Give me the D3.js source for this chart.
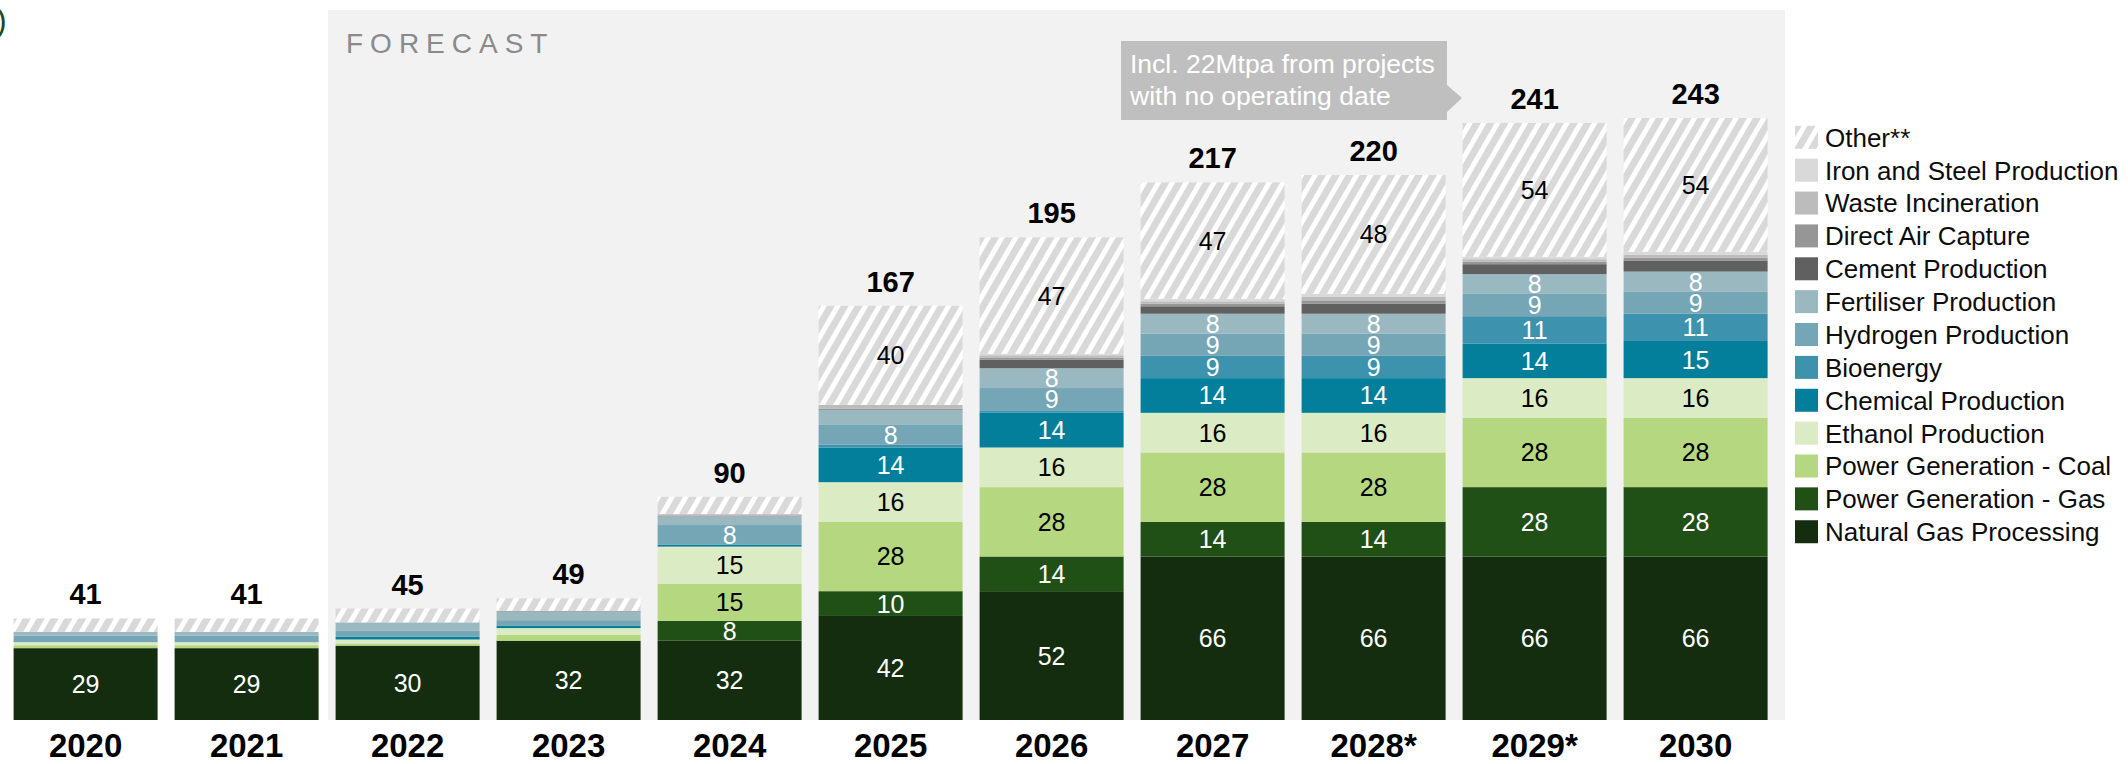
<!DOCTYPE html>
<html>
<head>
<meta charset="utf-8">
<script src="https://cdn.jsdelivr.net/npm/d3@7"></script>
<style>
  html, body { margin: 0; padding: 0; background: #ffffff; }
  svg { display: block; }
  text { font-family: "Liberation Sans", Arial, sans-serif; }
</style>
</head>
<body>
<svg id="chart" width="2128" height="764"></svg>
<script>
// ---------- DATA ----------
const categories = ["2020", "2021", "2022", "2023", "2024", "2025", "2026", "2027", "2028*", "2029*", "2030"];
const totals = [41, 41, 45, 49, 90, 167, 195, 217, 220, 241, 243];

const seriesNames = [
  "Natural Gas Processing", "Power Generation - Gas", "Power Generation - Coal",
  "Ethanol Production", "Chemical Production", "Bioenergy", "Hydrogen Production",
  "Fertiliser Production", "Cement Production", "Direct Air Capture",
  "Waste Incineration", "Iron and Steel Production", "Other**"
];

const naturalGasProcessing = [29, 29, 30, 32, 32, 42, 52, 66, 66, 66, 66];
const powerGenGas          = [0, 0, 0, 0, 8, 10, 14, 14, 14, 28, 28];
const powerGenCoal         = [1.2, 1.2, 0.9, 2.3, 15, 28, 28, 28, 28, 28, 28];
const ethanolProduction    = [1.2, 1.2, 1.6, 2.8, 15, 16, 16, 16, 16, 16, 16];
const chemicalProduction   = [0, 0, 1.1, 0.9, 0.7, 14, 14, 14, 14, 14, 15];
const bioenergy            = [0, 0, 0, 0, 0, 1.1, 1, 9, 9, 11, 11];
const hydrogenProduction   = [2.6, 2.6, 2.4, 2.3, 8, 8, 9, 9, 9, 9, 9];
const fertiliserProduction = [1.6, 1.6, 3.4, 3.4, 3.4, 6, 8, 8, 8, 8, 8];
const cementProduction     = [0, 0, 0, 0, 0, 0, 3.4, 3, 4, 4, 4.5];
const directAirCapture     = [0, 0, 0, 0.4, 0.5, 0.5, 0.8, 1, 1.4, 1, 1.1];
const wasteIncineration    = [0, 0, 0, 0, 0.5, 1.6, 1, 1, 1.4, 1, 1.2];
const ironSteelProduction  = [0, 0, 0, 0, 0, 0, 0.6, 1, 1.2, 1, 1.2];
const otherValues          = [5.4, 5.4, 5.6, 5, 7, 40, 47, 47, 48, 54, 54];

const seriesValues = [
  naturalGasProcessing, powerGenGas, powerGenCoal, ethanolProduction,
  chemicalProduction, bioenergy, hydrogenProduction, fertiliserProduction,
  cementProduction, directAirCapture, wasteIncineration, ironSteelProduction, otherValues
];

const seriesColors = [
  "#132d0e", "#215016", "#b5d780", "#dbebc3", "#037e9b", "#3d93ad", "#75a6b5",
  "#99b8c0", "#606060", "#969696", "#bcbcbc", "#d9d9d9", "url(#hatch)"
];
const labelColors = [
  "#ffffff", "#ffffff", "#000000", "#000000", "#ffffff", "#ffffff", "#ffffff",
  "#ffffff", "#ffffff", "#ffffff", "#000000", "#000000", "#000000"
];

const forecastLabel = "FORECAST";
const noteLines = ["Incl. 22Mtpa from projects", "with no operating date"];

// ---------- BUILD TABLE ----------
const table = categories.map((c, i) => {
  const row = { year: c };
  seriesNames.forEach((s, k) => { row[s] = seriesValues[k][i]; });
  return row;
});

// ---------- LAYOUT ----------
const svg = d3.select("#chart");
const baseY = 720;
const topY = 10;

const x = d3.scaleBand()
  .domain(categories)
  .range([13.6, 1767.6])
  .paddingInner(0.1056)
  .paddingOuter(0);

const y = d3.scaleLinear()
  .domain([0, 286.6])
  .range([baseY, topY]);

// pattern
const defs = svg.append("defs");
const pat = defs.append("pattern")
  .attr("id", "hatch")
  .attr("patternUnits", "userSpaceOnUse")
  .attr("width", 12).attr("height", 12)
  .attr("patternTransform", "rotate(30)");
pat.append("rect").attr("width", 12).attr("height", 12).attr("fill", "#d9d9d9");
pat.append("rect").attr("x", 0).attr("width", 5).attr("height", 12).attr("fill", "#ffffff");

// forecast panel
svg.append("rect")
  .attr("x", 328)
  .attr("y", topY)
  .attr("width", 1785 - 328)
  .attr("height", baseY - topY)
  .attr("fill", "#f2f2f2");

svg.append("text")
  .attr("x", 346)
  .attr("y", 53)
  .attr("font-size", 28)
  .attr("letter-spacing", "7px")
  .attr("fill", "#8a8a8a")
  .text(forecastLabel);

// cut-off title fragment
svg.append("text")
  .attr("x", -4)
  .attr("y", 31)
  .attr("font-size", 32)
  .attr("fill", "#1f4a1a")
  .text(")");

// stacked bars
const stack = d3.stack().keys(seriesNames);
const stacked = stack(table);

const layers = svg.append("g").selectAll("g.layer")
  .data(stacked)
  .join("g")
  .attr("class", "layer")
  .attr("fill", (d, k) => seriesColors[k]);

layers.selectAll("rect")
  .data(d => d)
  .join("rect")
  .attr("x", d => x(d.data.year))
  .attr("width", x.bandwidth())
  .attr("y", d => y(d[1]))
  .attr("height", d => Math.max(0, y(d[0]) - y(d[1])));

// segment labels
const labelG = svg.append("g");
stacked.forEach((layer, k) => {
  labelG.selectAll(null)
    .data(layer.filter(d => (d[1] - d[0]) >= 7.5))
    .join("text")
    .attr("x", d => x(d.data.year) + x.bandwidth() / 2)
    .attr("y", d => (y(d[0]) + y(d[1])) / 2)
    .attr("dy", "0.36em")
    .attr("text-anchor", "middle")
    .attr("font-size", 25)
    .attr("fill", labelColors[k])
    .text(d => d3.format("d")(d[1] - d[0]));
});

// totals
const topLayer = stacked[stacked.length - 1];
svg.append("g").selectAll("text")
  .data(topLayer)
  .join("text")
  .attr("x", d => x(d.data.year) + x.bandwidth() / 2)
  .attr("y", d => y(d[1]) - 14)
  .attr("text-anchor", "middle")
  .attr("font-size", 29)
  .attr("font-weight", "bold")
  .attr("fill", "#000")
  .text((d, i) => totals[i]);

// x axis
const xAxis = svg.append("g")
  .attr("transform", `translate(0,${baseY})`)
  .call(d3.axisBottom(x).tickSize(0).tickPadding(14));
xAxis.select(".domain").remove();
xAxis.selectAll("text")
  .attr("font-size", 33)
  .attr("font-weight", "bold")
  .attr("fill", "#000")
  .style("font-family", "'Liberation Sans', Arial, sans-serif");

// annotation callout
const note = svg.append("g");
note.append("path")
  .attr("d", "M1121,41 L1447,41 L1447,85 L1462,98 L1447,112 L1447,120 L1121,120 Z")
  .attr("fill", "#bfbfbf");
note.selectAll("text")
  .data(noteLines)
  .join("text")
  .attr("x", 1130)
  .attr("y", (d, i) => 73 + i * 32)
  .attr("font-size", 26.5)
  .attr("fill", "#ffffff")
  .text(d => d);

// legend
const legendOrder = seriesNames.map((s, k) => k).reverse();
const legend = svg.append("g");
const lg = legend.selectAll("g")
  .data(legendOrder)
  .join("g")
  .attr("transform", (k, i) => `translate(1795,${137.3 + i * 32.87})`);
lg.append("rect")
  .attr("x", 0).attr("y", -11.5)
  .attr("width", 23).attr("height", 23)
  .attr("fill", k => seriesColors[k]);
lg.append("text")
  .attr("x", 30)
  .attr("y", 0)
  .attr("dy", "0.36em")
  .attr("font-size", 26)
  .attr("fill", "#0d0d0d")
  .text(k => seriesNames[k]);
</script>
</body>
</html>
